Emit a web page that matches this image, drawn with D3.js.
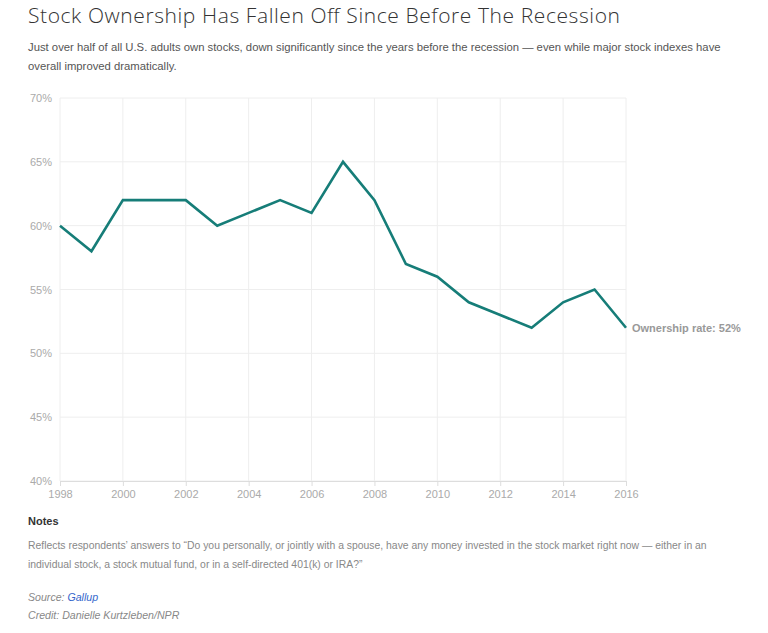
<!DOCTYPE html>
<html>
<head>
<meta charset="utf-8">
<script src="https://cdn.jsdelivr.net/npm/d3@7"></script>
<style>
  html, body { margin: 0; padding: 0; background: #fff; }
  svg { display: block; }
</style>
</head>
<body>
<svg id="chart" width="768" height="633"></svg>
<script>
const years = [1998,1999,2000,2001,2002,2003,2004,2005,2006,2007,2008,2009,2010,2011,2012,2013,2014,2015,2016];
const ownership = [60,58,62,62,62,60,61,62,61,65,62,57,56,54,53,52,54,55,52];
const yTicks = [40,45,50,55,60,65,70];
const xTicks = [1998,2000,2002,2004,2006,2008,2010,2012,2014,2016];
const title = "Stock Ownership Has Fallen Off Since Before The Recession";
const subtitleLines = [
  "Just over half of all U.S. adults own stocks, down significantly since the years before the recession \u2014 even while major stock indexes have",
  "overall improved dramatically."
];
const endLabel = "Ownership rate: 52%";
const notesHead = "Notes";
const notesLines = [
  "Reflects respondents\u2019 answers to \u201cDo you personally, or jointly with a spouse, have any money invested in the stock market right now \u2014 either in an",
  "individual stock, a stock mutual fund, or in a self-directed 401(k) or IRA?\u201d"
];

const svg = d3.select("#chart");
const sans = "'Liberation Sans', Arial, sans-serif";

const m = {left: 60, right: 142, top: 98, bottom: 152};
const W = 768, H = 633;
const x = d3.scaleLinear().domain([1998, 2016]).range([m.left, W - m.right]);
const y = d3.scaleLinear().domain([40, 70]).range([H - m.bottom, m.top]);

// Title
svg.append("text").attr("x", 28).attr("y", 23)
  .attr("font-family", "'Open Sans', sans-serif").attr("font-weight", 300)
  .attr("font-size", 21).attr("fill", "#333")
  .attr("textLength", 592).attr("lengthAdjust", "spacing").text(title);

svg.selectAll("text.sub").data(subtitleLines).join("text").attr("class","sub")
  .attr("x", 28).attr("y", (d,i) => 51 + i*19)
  .attr("font-family", sans).attr("font-size", 11.3).attr("fill", "#555")
  .text(d => d);

// grid
const g = svg.append("g");
g.selectAll("line.hg").data(yTicks).join("line").attr("class","hg")
  .attr("x1", x(1998)).attr("x2", x(2016))
  .attr("y1", d => y(d)).attr("y2", d => y(d))
  .attr("stroke", "#eeeeee").attr("stroke-width", 1);
g.selectAll("line.vg").data(xTicks).join("line").attr("class","vg")
  .attr("x1", d => x(d)).attr("x2", d => x(d))
  .attr("y1", y(70)).attr("y2", y(40))
  .attr("stroke", "#eeeeee").attr("stroke-width", 1);

// y axis labels
const yAxis = d3.axisLeft(y).tickValues(yTicks).tickSize(0).tickPadding(8).tickFormat(d => d + "%");
const ya = svg.append("g").attr("transform", `translate(${x(1998)},0)`).call(yAxis);
ya.select(".domain").remove();
ya.selectAll("text").attr("font-family", sans).attr("font-size", 11).attr("fill", "#aaa");

// x axis
const xAxis = d3.axisBottom(x).tickValues(xTicks).tickSize(5).tickSizeOuter(5).tickPadding(4).tickFormat(d3.format("d"));
const xa = svg.append("g").attr("transform", `translate(0,${y(40)})`).call(xAxis);
xa.select(".domain").attr("stroke", "#ddd");
xa.selectAll(".tick line").attr("stroke", "#ddd");
xa.selectAll("text").attr("font-family", sans).attr("font-size", 11).attr("fill", "#aaa");

// line
const line = d3.line().x((d,i) => x(years[i])).y(d => y(d));
svg.append("path").datum(ownership).attr("d", line)
  .attr("fill", "none").attr("stroke", "#167d78").attr("stroke-width", 2.6)
  .attr("stroke-linejoin", "miter");

svg.append("text").attr("x", x(2016) + 6).attr("y", y(ownership[ownership.length-1]) + 4)
  .attr("font-family", sans).attr("font-weight", "bold").attr("font-size", 11)
  .attr("fill", "#999").text(endLabel);

// notes
svg.append("text").attr("x", 28).attr("y", 525).attr("font-family", sans)
  .attr("font-weight", "bold").attr("font-size", 11).attr("fill", "#333").text(notesHead);
svg.selectAll("text.note").data(notesLines).join("text").attr("class","note")
  .attr("x", 28).attr("y", (d,i) => 549 + i*19)
  .attr("font-family", sans).attr("font-size", 10.4).attr("fill", "#888").text(d => d);

const src = svg.append("text").attr("x", 28).attr("y", 601).attr("font-family", sans)
  .attr("font-style", "italic").attr("font-size", 10.6).attr("fill", "#888");
src.append("tspan").text("Source: ");
src.append("tspan").attr("fill", "#3366cc").text("Gallup");
svg.append("text").attr("x", 28).attr("y", 619).attr("font-family", sans)
  .attr("font-style", "italic").attr("font-size", 10.6).attr("fill", "#888")
  .text("Credit: Danielle Kurtzleben/NPR");
</script>
</body>
</html>
